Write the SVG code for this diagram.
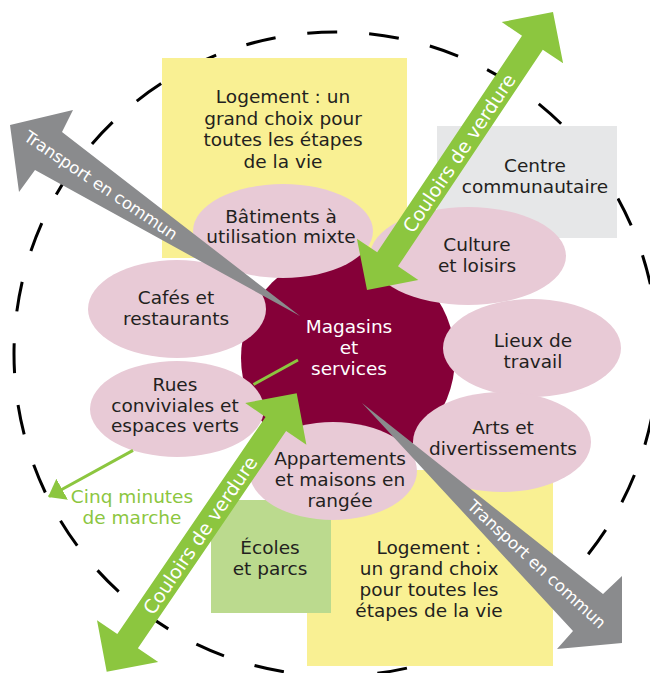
<svg xmlns="http://www.w3.org/2000/svg" width="650" height="673" viewBox="0 0 650 673">
  <defs>
    <style>
      .lbl { font-family: "DejaVu Sans", "Liberation Sans", sans-serif; font-size: 18.5px; fill: #231F20; text-anchor: middle; }
      .lbl-w { fill: #FFFFFF; }
      .lbl-g { fill: #8CC63F; }
      .arr-txt { font-family: "DejaVu Sans", "Liberation Sans", sans-serif; fill: #FFFFFF; text-anchor: middle; }
      .bubble { fill: #E8CAD6; }
      .housing { fill: #F9F093; }
      .ring { fill: none; stroke: #000000; stroke-width: 3; stroke-dasharray: 30 32; }
      .transit { fill: #8A8B8D; }
      .greenway { fill: #8CC63F; }
      .walk { fill: none; stroke: #8CC63F; stroke-width: 3; }
    </style>
    <marker id="walk-head" viewBox="0 0 16 24" refX="15" refY="12" markerWidth="16" markerHeight="24" markerUnits="userSpaceOnUse" orient="auto">
      <path d="M0,0 L16,12 L0,24 Z" fill="#8CC63F"/>
    </marker>
  </defs>

  <rect width="650" height="673" fill="#FFFFFF"/>

  <!-- five-minute walking radius -->
  <circle class="ring" cx="336" cy="354" r="322"/>

  <!-- blocks -->
  <g id="housing-north">
    <rect class="housing" x="162" y="58" width="245" height="200"/>
    <text class="lbl" x="283" y="103">Logement : un</text>
    <text class="lbl" x="283" y="124.5">grand choix pour</text>
    <text class="lbl" x="283" y="146">toutes les étapes</text>
    <text class="lbl" x="283" y="167.5">de la vie</text>
  </g>
  <g id="community-centre">
    <rect x="437" y="126" width="180" height="112" fill="#E6E7E8"/>
    <text class="lbl" x="535" y="172">Centre</text>
    <text class="lbl" x="535" y="193">communautaire</text>
  </g>
  <g id="housing-south">
    <rect class="housing" x="307" y="470" width="246" height="196"/>
    <text class="lbl" x="429" y="554">Logement :</text>
    <text class="lbl" x="429" y="575">un grand choix</text>
    <text class="lbl" x="429" y="596">pour toutes les</text>
    <text class="lbl" x="429" y="616.5">étapes de la vie</text>
  </g>
  <g id="schools-parks">
    <rect x="211" y="500" width="120" height="113" fill="#BBDA8E"/>
    <text class="lbl" x="270" y="554">Écoles</text>
    <text class="lbl" x="270" y="575">et parcs</text>
  </g>

  <!-- central core -->
  <g id="shops-services">
    <circle cx="348" cy="358" r="107" fill="#850038"/>
    <text class="lbl lbl-w" x="349" y="333">Magasins</text>
    <text class="lbl lbl-w" x="349" y="354">et</text>
    <text class="lbl lbl-w" x="349" y="375">services</text>
  </g>

  <!-- surrounding uses -->
  <g id="mixed-use">
    <ellipse class="bubble" cx="283" cy="231" rx="90" ry="47"/>
    <text class="lbl" x="281" y="222.5">Bâtiments à</text>
    <text class="lbl" x="281" y="243">utilisation mixte</text>
  </g>
  <g id="cafes">
    <ellipse class="bubble" cx="177" cy="309" rx="89" ry="49"/>
    <text class="lbl" x="176" y="303.5">Cafés et</text>
    <text class="lbl" x="176" y="325">restaurants</text>
  </g>
  <g id="streets">
    <ellipse class="bubble" cx="177" cy="409" rx="87" ry="48"/>
    <text class="lbl" x="175" y="391">Rues</text>
    <text class="lbl" x="175" y="412">conviviales et</text>
    <text class="lbl" x="175" y="432">espaces verts</text>
  </g>
  <g id="culture">
    <ellipse class="bubble" cx="468" cy="256" rx="98" ry="49"/>
    <text class="lbl" x="477" y="251">Culture</text>
    <text class="lbl" x="477" y="272">et loisirs</text>
  </g>
  <g id="workplaces">
    <ellipse class="bubble" cx="532" cy="348" rx="89" ry="49"/>
    <text class="lbl" x="533" y="347">Lieux de</text>
    <text class="lbl" x="533" y="368">travail</text>
  </g>
  <g id="arts">
    <ellipse class="bubble" cx="502" cy="442" rx="89" ry="50"/>
    <text class="lbl" x="503" y="434">Arts et</text>
    <text class="lbl" x="503" y="455">divertissements</text>
  </g>
  <g id="townhouses">
    <ellipse class="bubble" cx="333" cy="471" rx="84" ry="49"/>
    <text class="lbl" x="340" y="465">Appartements</text>
    <text class="lbl" x="340" y="486">et maisons en</text>
    <text class="lbl" x="340" y="507">rangée</text>
  </g>

  <!-- connectors -->
  <g id="connectors">
    <path class="walk" d="M298,360 L253.5,384.5 M133,450.4 L49,496.5" marker-end="url(#walk-head)"/>

    <polygon class="transit" points="10,125 73,110 62,132 300,316 35,170 19,192"/>
    <polygon class="transit" points="362,403 603,594 622,576 622,643 557,649 573,631"/>

    <polygon class="greenway" points="553,12 563.1,63.3 542.8,49.7 398,266.3 418.3,279.9 367,290 356.9,238.7 377.2,252.3 522,35.7 501.7,22.1"/>
    <polygon class="greenway" points="296.7,393.3 306.4,444.8 286.1,431 137.9,648.2 158.2,662 106.7,671.7 97,620.2 117.3,634 265.5,416.9 245.2,403"/>

    <text class="arr-txt" font-size="16.5" transform="translate(101,185) rotate(34)" y="6">Transport en commun</text>
    <text class="arr-txt" font-size="16.5" transform="translate(537,564) rotate(42.5)" y="6">Transport en commun</text>
    <text class="arr-txt" font-size="19" transform="translate(459,153) rotate(-56.2)" y="7">Couloirs de verdure</text>
    <text class="arr-txt" font-size="19" transform="translate(200,535) rotate(-55.7)" y="7">Couloirs de verdure</text>
  </g>

  <g id="walk-label">
    <text class="lbl lbl-g" x="132" y="503">Cinq minutes</text>
    <text class="lbl lbl-g" x="132" y="523.5">de marche</text>
  </g>
</svg>
